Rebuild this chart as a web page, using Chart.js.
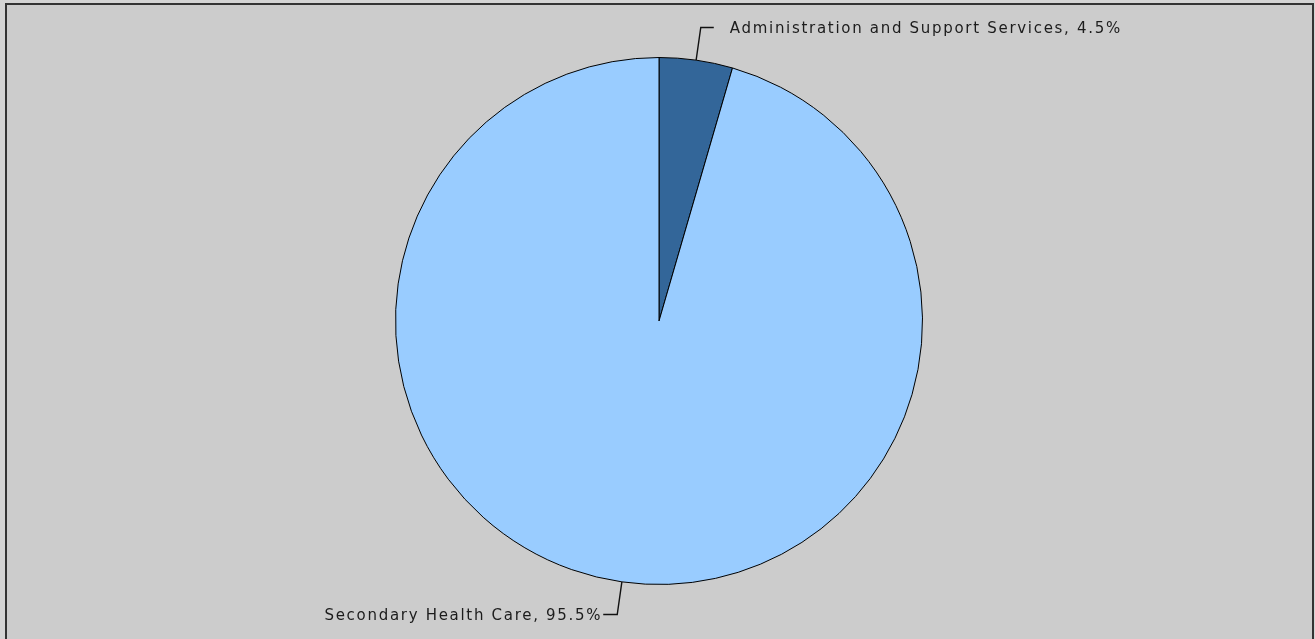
<!DOCTYPE html>
<html>
<head>
<meta charset="utf-8">
<script src="https://cdn.jsdelivr.net/npm/chart.js@4/dist/chart.umd.min.js"></script>
<style>
    html, body { margin: 0; padding: 0; background: #d4d4d4; overflow: hidden; }
    #wrap { position: absolute; left: 0; top: 0; width: 1315px; height: 639px; }
</style>
</head>
<body>
<div id="wrap"><canvas id="chart" width="1315" height="639"></canvas></div>
<script>
const labels = ['Administration and Support Services', 'Secondary Health Care'];
const values = [4.5, 95.5];
const colors = ['#336699', '#99ccff'];

// Frame and gray panel behind the pie
const framePlugin = {
    id: 'frame',
    beforeDraw: function (chart) {
        const ctx = chart.ctx;
        ctx.save();
        ctx.fillStyle = '#cccccc';
        ctx.fillRect(5, 3, 1308, 640);
        ctx.strokeStyle = '#333333';
        ctx.lineWidth = 2;
        ctx.beginPath();
        ctx.moveTo(6, 645);
        ctx.lineTo(6, 4);
        ctx.lineTo(1313, 4);
        ctx.lineTo(1313, 645);
        ctx.stroke();
        ctx.restore();
    }
};

// Leader lines and "label, value%" text
const calloutPlugin = {
    id: 'callouts',
    afterDatasetsDraw: function (chart) {
        const ctx = chart.ctx;
        const meta = chart.getDatasetMeta(0);
        ctx.save();
        ctx.font = '15px "DejaVu Sans"';
        ctx.letterSpacing = '1.7px';
        ctx.fillStyle = '#1c1c1c';
        ctx.strokeStyle = '#111111';
        ctx.lineWidth = 1.4;
        ctx.textBaseline = 'middle';
        meta.data.forEach(function (arc, i) {
            const p = arc.getProps(['x', 'y', 'startAngle', 'endAngle', 'outerRadius'], true);
            const mid = (p.startAngle + p.endAngle) / 2;
            const x0 = p.x + Math.cos(mid) * p.outerRadius;
            const y0 = p.y + Math.sin(mid) * p.outerRadius;
            const x1 = p.x + Math.cos(mid) * (p.outerRadius + 33);
            const y1 = p.y + Math.sin(mid) * (p.outerRadius + 33);
            const right = Math.cos(mid) >= 0;
            const x2 = x1 + (right ? 13 : -14);
            ctx.beginPath();
            ctx.moveTo(x0, y0);
            ctx.lineTo(x1, y1);
            ctx.lineTo(x2, y1);
            ctx.stroke();
            const text = labels[i] + ', ' + values[i].toFixed(1) + '%';
            ctx.textAlign = right ? 'left' : 'right';
            ctx.fillText(text, x2 + (right ? 16 : -1), y1 + 2);
        });
        ctx.restore();
    }
};

new Chart(document.getElementById('chart').getContext('2d'), {
    type: 'pie',
    data: {
        labels: labels,
        datasets: [{
            data: values,
            backgroundColor: colors,
            borderColor: '#000000',
            borderWidth: 1
        }]
    },
    options: {
        responsive: false,
        animation: false,
        layout: {
            padding: { left: 395, right: 392, top: 57, bottom: 54 }
        },
        plugins: {
            legend: { display: false },
            tooltip: { enabled: false }
        }
    },
    plugins: [framePlugin, calloutPlugin]
});
</script>
</body>
</html>
